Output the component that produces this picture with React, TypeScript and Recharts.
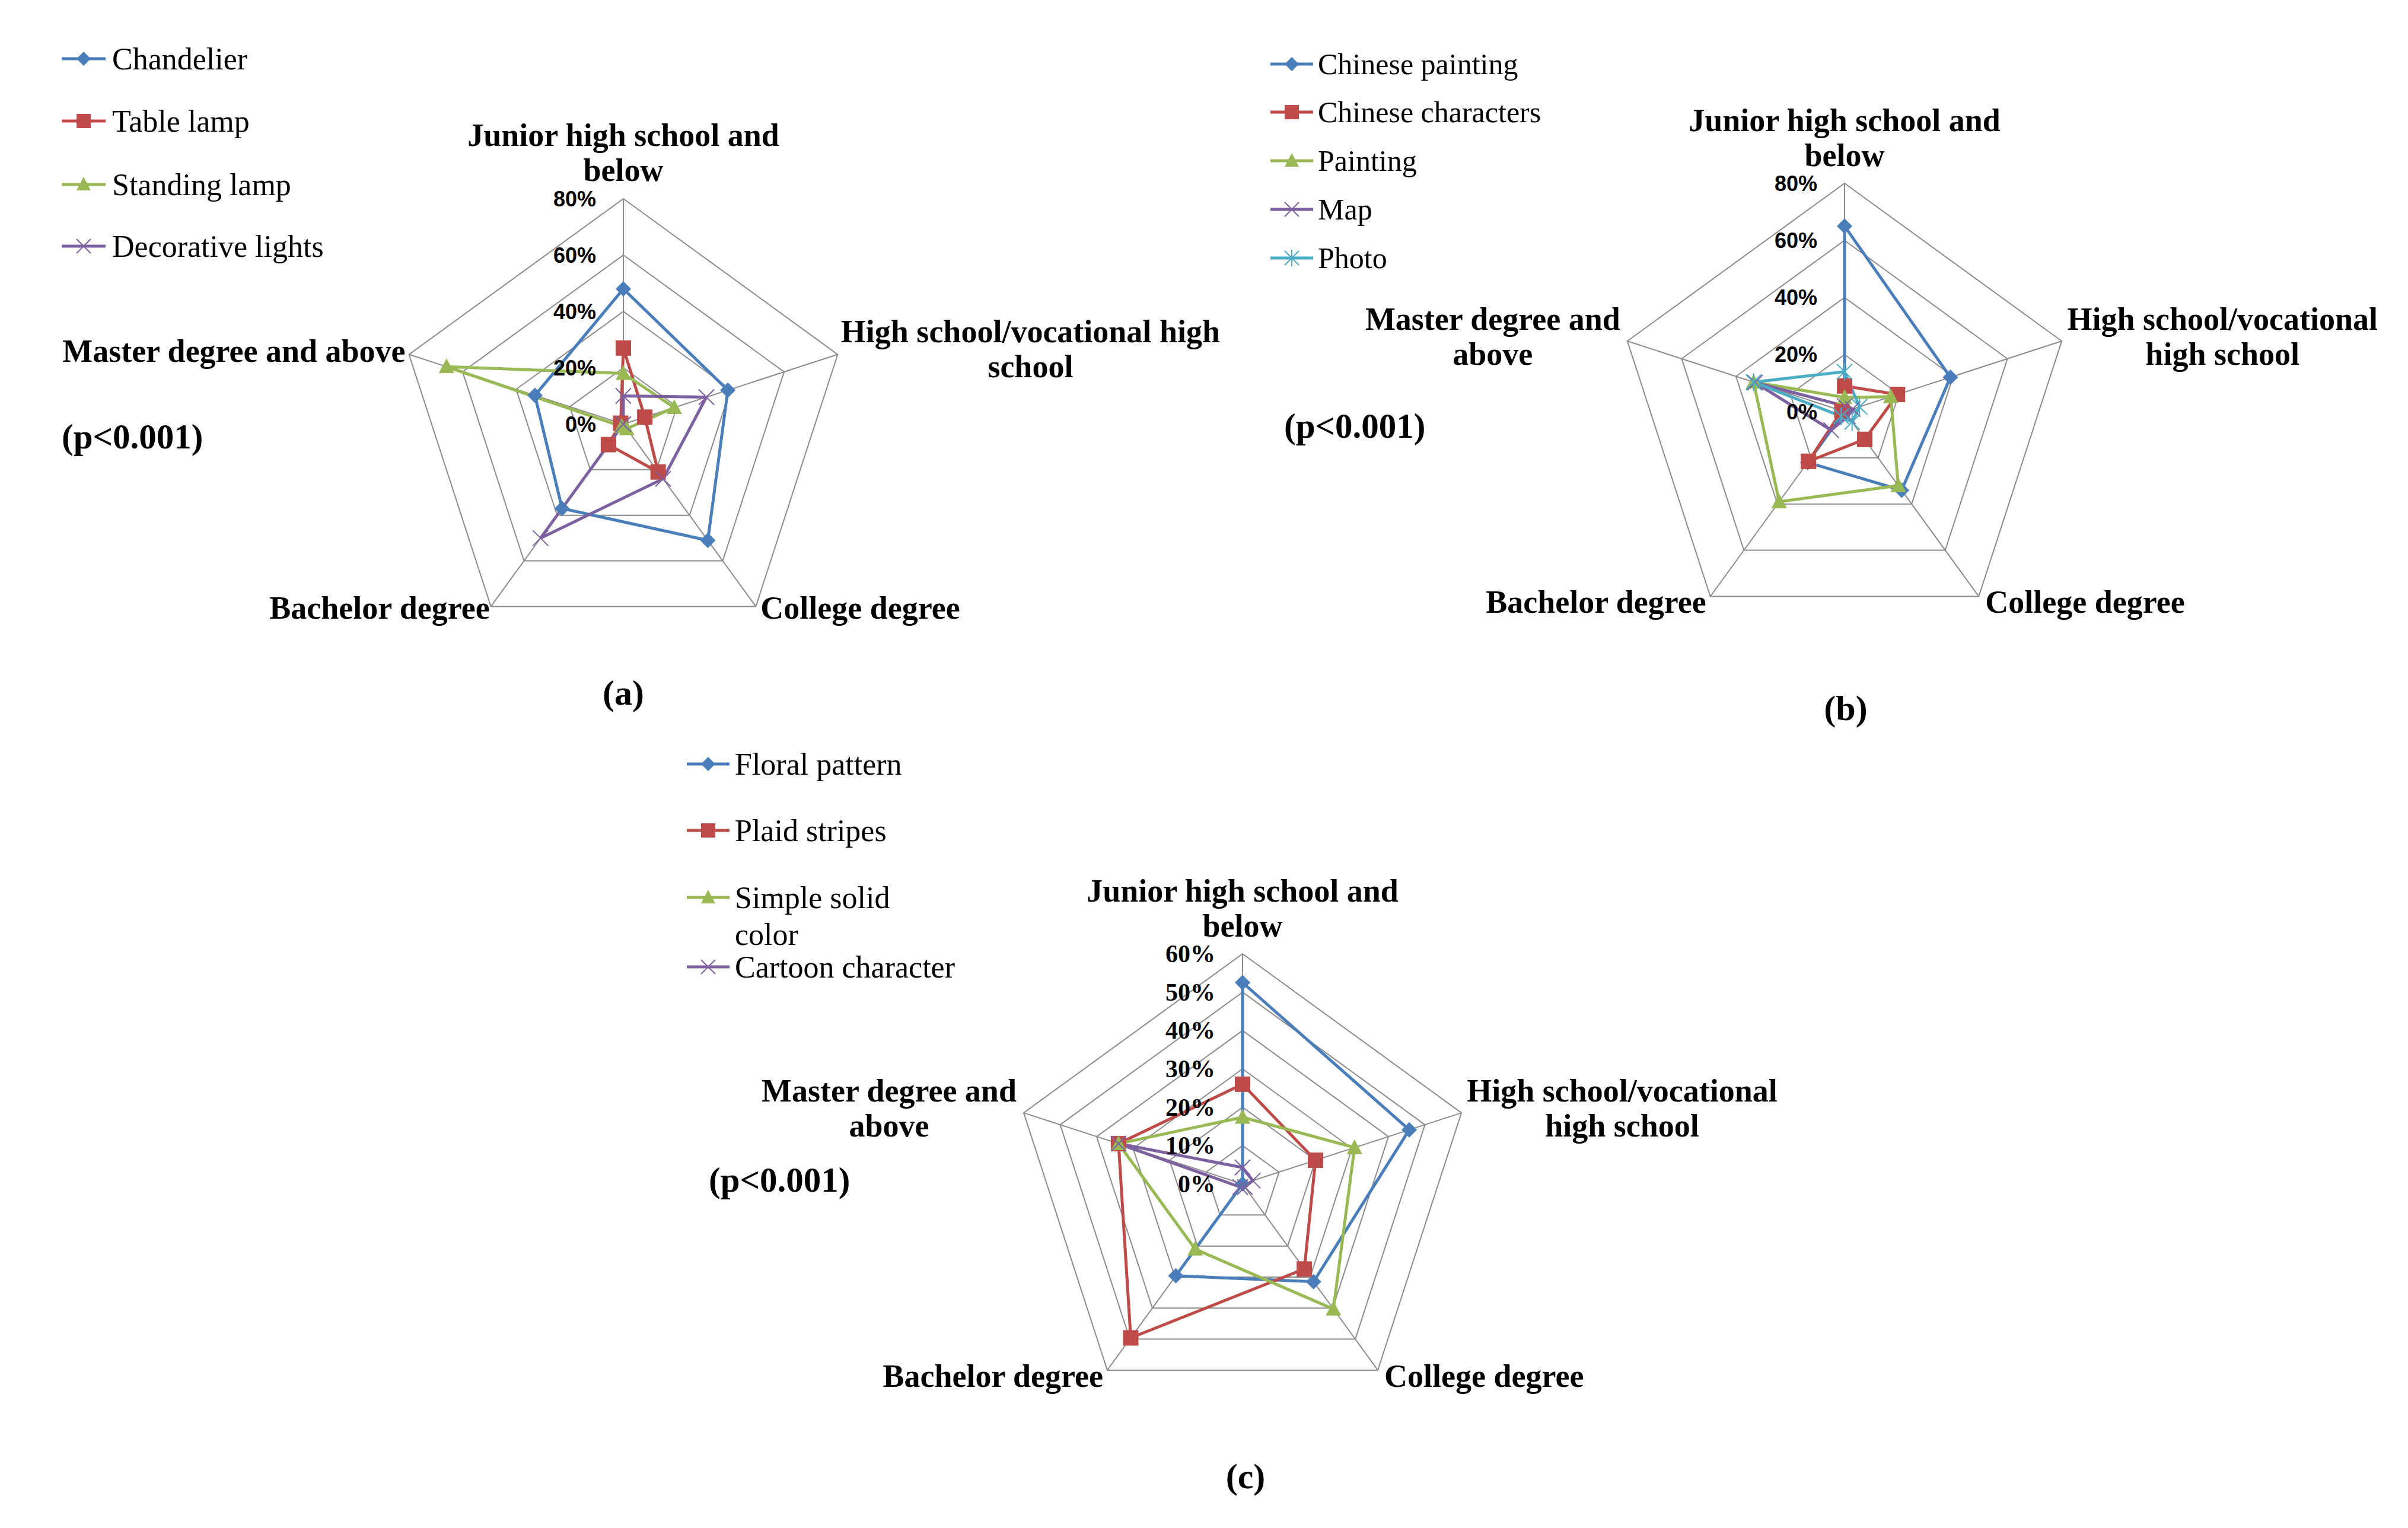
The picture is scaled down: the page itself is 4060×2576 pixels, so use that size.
import React from 'react';
import { RadarChart, Radar, PolarGrid, PolarAngleAxis, PolarRadiusAxis } from 'recharts';

const categories = [
  'Junior high school and below',
  'High school/vocational high school',
  'College degree',
  'Bachelor degree',
  'Master degree and above',
];

// (a) lighting
const chandelier = [48, 39, 51, 37, 33];
const tableLamp = [27, 8, 21, 9, 1];
const standingLamp = [18, 19, 2, 1, 66];
const decorativeLights = [10, 31, 24, 50, 0];

// (b) wall decoration
const chinesePainting = [65, 39, 34, 22, 0];
const chineseCharacters = [9, 19.5, 12, 21.5, 1];
const paintingArt = [5, 17, 32, 39, 33.5];
const mapDecor = [2, 3, 2, 8, 33];
const photoDecor = [14, 5.5, 4.5, 2, 33.5];

// (c) fabric pattern
const floralPattern = [52.5, 45.7, 31.5, 29.6, 0];
const plaidStripes = [26, 20, 27.4, 49.6, 34];
const simpleSolid = [17.4, 30.7, 40.3, 21, 34];
const cartoonCharacter = [4.3, 2.8, 1, 1, 34];

const BLUE = '#4a7ebb';
const RED = '#be4b48';
const GREEN = '#98b954';
const PURPLE = '#7d60a0';
const CYAN = '#4bacc6';

const SERIF = '"Liberation Serif", "Times New Roman", serif';
const SANS = '"Liberation Sans", Arial, sans-serif';

type Marker = 'diamond' | 'square' | 'triangle' | 'x' | 'star';
type Series = { name: string[]; values: number[]; color: string; marker: Marker };

function drawMarker(kind: Marker, x: number, y: number, color: string, s = 13) {
  switch (kind) {
    case 'diamond':
      return <path d={`M${x},${y - s}L${x + s},${y}L${x},${y + s}L${x - s},${y}Z`} fill={color} />;
    case 'square':
      return <rect x={x - s} y={y - s} width={2 * s} height={2 * s} fill={color} />;
    case 'triangle':
      return <path d={`M${x},${y - s - 1}L${x + s},${y + s - 2}L${x - s},${y + s - 2}Z`} fill={color} />;
    case 'x':
      return (
        <path
          d={`M${x - s},${y - s}L${x + s},${y + s}M${x - s},${y + s}L${x + s},${y - s}`}
          stroke={color}
          strokeWidth={2}
          fill="none"
        />
      );
    default:
      return (
        <path
          d={`M${x - s},${y - s}L${x + s},${y + s}M${x - s},${y + s}L${x + s},${y - s}M${x},${y - s - 2}L${x},${y + s + 2}`}
          stroke={color}
          strokeWidth={2}
          fill="none"
        />
      );
  }
}

type Label = { lines: string[]; dx: number; dy: number; anchor: 'start' | 'middle' | 'end' };

type PanelProps = {
  left: number;
  top: number;
  width: number;
  height: number;
  cx: number;
  cy: number;
  r: number;
  max: number;
  tickCount: number;
  tickFont: string;
  tickSize: number;
  series: Series[];
  labels: Label[];
};

function Panel(p: PanelProps) {
  const data = categories.map((c, i) => {
    const row: Record<string, string | number> = { cat: c };
    p.series.forEach((s, k) => {
      row['s' + k] = s.values[i];
    });
    return row;
  });

  const angleTick = (props: any) => {
    const i = props.index;
    const a = ((90 - i * 72) * Math.PI) / 180;
    const vx = p.cx + p.r * Math.cos(a);
    const vy = p.cy - p.r * Math.sin(a);
    const lab = p.labels[i];
    return (
      <text
        key={'cat' + i}
        x={vx + lab.dx}
        y={vy + lab.dy}
        textAnchor={lab.anchor}
        dominantBaseline="central"
        fontFamily={SERIF}
        fontWeight="bold"
        fontSize={54}
        fill="#000"
      >
        {lab.lines.map((ln, j) => (
          <tspan key={j} x={vx + lab.dx} dy={j === 0 ? 0 : 59}>
            {ln}
          </tspan>
        ))}
      </text>
    );
  };

  const radiusTick = (props: any) => (
    <text
      key={'r' + props.index}
      x={props.x - 46}
      y={props.y}
      textAnchor="end"
      dominantBaseline="central"
      fontFamily={p.tickFont}
      fontWeight="bold"
      fontSize={p.tickSize}
      fill="#000"
    >
      {`${props.payload.value}%`}
    </text>
  );

  return (
    <div style={{ position: 'absolute', left: p.left, top: p.top }}>
      <RadarChart
        width={p.width}
        height={p.height}
        data={data}
        cx={p.cx}
        cy={p.cy}
        outerRadius={p.r}
        margin={{ top: 0, right: 0, bottom: 0, left: 0 }}
      >
        <PolarGrid gridType="polygon" stroke="#8c8c8c" strokeWidth={2} />
        <PolarAngleAxis dataKey="cat" axisLine={false} tickLine={false} tick={angleTick} />
        <PolarRadiusAxis
          angle={90}
          type="number"
          domain={[0, p.max]}
          tickCount={p.tickCount}
          axisLine={false}
          tickLine={false}
          tick={radiusTick}
        />
        {p.series.map((s, k) => (
          <Radar
            key={k}
            dataKey={'s' + k}
            name={s.name.join(' ')}
            stroke={s.color}
            strokeWidth={5}
            fill="none"
            fillOpacity={0}
            isAnimationActive={false}
            dot={(d: any) => <g key={'d' + k + '-' + d.index}>{drawMarker(s.marker, d.cx, d.cy, s.color)}</g>}
          />
        ))}
      </RadarChart>
    </div>
  );
}

const seriesA: Series[] = [
  { name: ['Chandelier'], values: chandelier, color: BLUE, marker: 'diamond' },
  { name: ['Table lamp'], values: tableLamp, color: RED, marker: 'square' },
  { name: ['Standing lamp'], values: standingLamp, color: GREEN, marker: 'triangle' },
  { name: ['Decorative lights'], values: decorativeLights, color: PURPLE, marker: 'x' },
];
const seriesB: Series[] = [
  { name: ['Chinese painting'], values: chinesePainting, color: BLUE, marker: 'diamond' },
  { name: ['Chinese characters'], values: chineseCharacters, color: RED, marker: 'square' },
  { name: ['Painting'], values: paintingArt, color: GREEN, marker: 'triangle' },
  { name: ['Map'], values: mapDecor, color: PURPLE, marker: 'x' },
  { name: ['Photo'], values: photoDecor, color: CYAN, marker: 'star' },
];
const seriesC: Series[] = [
  { name: ['Floral pattern'], values: floralPattern, color: BLUE, marker: 'diamond' },
  { name: ['Plaid stripes'], values: plaidStripes, color: RED, marker: 'square' },
  { name: ['Simple solid', 'color'], values: simpleSolid, color: GREEN, marker: 'triangle' },
  { name: ['Cartoon character'], values: cartoonCharacter, color: PURPLE, marker: 'x' },
];

const labelsA: Label[] = [
  { lines: ['Junior high school and', 'below'], dx: 0, dy: -107, anchor: 'middle' },
  { lines: ['High school/vocational high', 'school'], dx: 325, dy: -39, anchor: 'middle' },
  { lines: ['College degree'], dx: 8, dy: 3, anchor: 'start' },
  { lines: ['Bachelor degree'], dx: -2, dy: 3, anchor: 'end' },
  { lines: ['Master degree and above'], dx: -6, dy: -6, anchor: 'end' },
];
const labelsBC: Label[] = [
  { lines: ['Junior high school and', 'below'], dx: 0, dy: -106, anchor: 'middle' },
  { lines: ['High school/vocational', 'high school'], dx: 271, dy: -37, anchor: 'middle' },
  { lines: ['College degree'], dx: 11, dy: 10, anchor: 'start' },
  { lines: ['Bachelor degree'], dx: -7, dy: 10, anchor: 'end' },
  { lines: ['Master degree and', 'above'], dx: -227, dy: -37, anchor: 'middle' },
];

type LegendSpec = { x0: number; x1: number; tx: number; rows: number[]; size: number; series: Series[] };

function LegendBlock({ spec }: { spec: LegendSpec }) {
  return (
    <g>
      {spec.series.map((s, i) => {
        const y = spec.rows[i];
        return (
          <g key={i}>
            <line x1={spec.x0} x2={spec.x1} y1={y} y2={y} stroke={s.color} strokeWidth={5} />
            {drawMarker(s.marker, (spec.x0 + spec.x1) / 2, y, s.color, 12)}
            <text x={spec.tx} y={y} dominantBaseline="central" fontFamily={SERIF} fontSize={spec.size} fill="#000">
              {s.name.map((ln, j) => (
                <tspan key={j} x={spec.tx} dy={j === 0 ? 0 : 62}>
                  {ln}
                </tspan>
              ))}
            </text>
          </g>
        );
      })}
    </g>
  );
}

const captionStyle = { fontFamily: SERIF, fontWeight: 'bold' as const, fill: '#000' };

export default function App() {
  return (
    <div style={{ position: 'relative', width: 4060, height: 2576, background: '#fff', overflow: 'hidden' }}>
      <style>{'body{margin:0}'}</style>
      <svg width={4060} height={2576} style={{ position: 'absolute', left: 0, top: 0 }}>
        <LegendBlock spec={{ x0: 104, x1: 178, tx: 189, rows: [99, 204, 311, 415], size: 52, series: seriesA }} />
        <LegendBlock
          spec={{ x0: 2142, x1: 2214, tx: 2222, rows: [108, 189, 271, 353, 435], size: 50, series: seriesB }}
        />
        <LegendBlock
          spec={{ x0: 1158, x1: 1230, tx: 1239, rows: [1288, 1400, 1513, 1630], size: 52, series: seriesC }}
        />
        <text x={104} y={736} dominantBaseline="central" fontSize={59} {...captionStyle}>(p&lt;0.001)</text>
        <text x={2165} y={718} dominantBaseline="central" fontSize={59} {...captionStyle}>(p&lt;0.001)</text>
        <text x={1195} y={1989} dominantBaseline="central" fontSize={59} {...captionStyle}>(p&lt;0.001)</text>
        <text x={1051} y={1168} textAnchor="middle" dominantBaseline="central" fontSize={60} {...captionStyle}>(a)</text>
        <text x={3112} y={1194} textAnchor="middle" dominantBaseline="central" fontSize={60} {...captionStyle}>(b)</text>
        <text x={2100} y={2489} textAnchor="middle" dominantBaseline="central" fontSize={60} {...captionStyle}>(c)</text>
      </svg>
      <Panel
        left={0}
        top={0}
        width={2200}
        height={1250}
        cx={1051}
        cy={715}
        r={380}
        max={80}
        tickCount={5}
        tickFont={SANS}
        tickSize={36}
        series={seriesA}
        labels={labelsA}
      />
      <Panel
        left={2030}
        top={0}
        width={2030}
        height={1250}
        cx={1080}
        cy={694}
        r={385}
        max={80}
        tickCount={5}
        tickFont={SANS}
        tickSize={36}
        series={seriesB}
        labels={labelsBC}
      />
      <Panel
        left={1000}
        top={1250}
        width={2000}
        height={1326}
        cx={1095}
        cy={746}
        r={388}
        max={60}
        tickCount={7}
        tickFont={SERIF}
        tickSize={42}
        series={seriesC}
        labels={labelsBC}
      />
    </div>
  );
}
